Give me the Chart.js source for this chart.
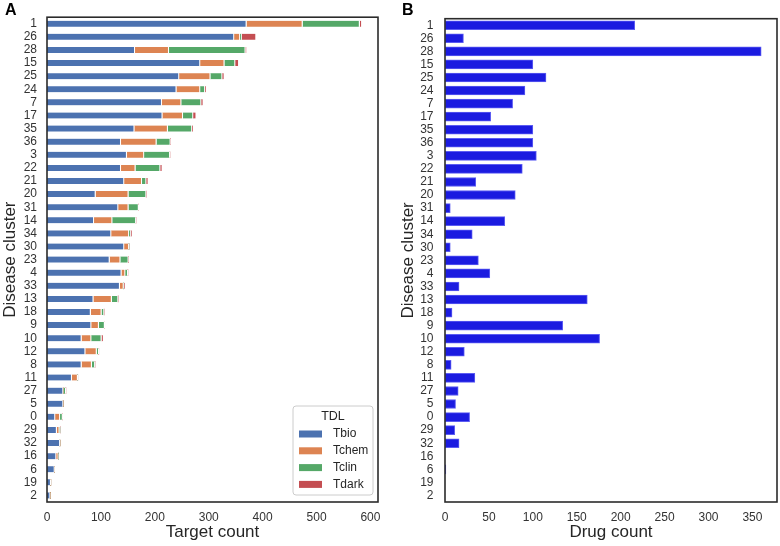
<!DOCTYPE html>
<html>
<head>
<meta charset="utf-8">
<script src="https://cdn.jsdelivr.net/npm/chart.js@4.4.1/dist/chart.umd.min.js"></script>
<style>
  html, body { margin: 0; padding: 0; background: #fff; }
  #wrap { position: relative; width: 780px; height: 546px; overflow: hidden; }
  .cv { position: absolute; top: 0; }
  .panel { position: absolute; font-family: "Liberation Sans", Arial, sans-serif; font-weight: bold; font-size: 16px; color: #000; line-height: 16px; }
</style>
</head>
<body>
<div id="wrap">
  <canvas id="cA" class="cv" width="390" height="546" style="left:0px"></canvas>
  <canvas id="cB" class="cv" width="390" height="546" style="left:390px"></canvas>
  <div class="panel" style="left:5px; top:2px;">A</div>
  <div class="panel" style="left:402px; top:2px;">B</div>
</div>
<script>
// ---- data ----
const categories = ['1','26','28','15','25','24','7','17','35','36','3','22','21','20','31','14','34','30','23','4','33','13','18','9','10','12','8','11','27','5','0','29','32','16','6','19','2'];
const tbio  = [370,347,163,284,245,240,213,214,162,137,148,137,143,90,132,87,119,143,116,138,135,86,81,82,64,71,64,46,30,30,15,18,24,17,14,7,6];
const tchem = [104,11,63,45,58,44,36,38,62,66,32,27,33,61,19,34,33,9,20,7,7,34,20,14,18,21,19,11,0,0,9,5,0,4,0,0,0];
const tclin = [106,3,142,20,22,9,37,19,45,26,48,46,8,33,19,44,3,0,15,5,0,12,5,11,19,4,6,0,5,0,5,2,0,0,0,0,0];
const tdark = [4,27,2,7,4,2,4,6,2,0,0,4,4,0,0,0,3,0,0,0,3,0,0,0,4,0,0,0,0,0,0,0,0,0,0,0,0];
const drugCount = [216,21,360,100,115,91,77,52,100,100,104,88,35,80,6,68,31,6,38,51,16,162,8,134,176,22,7,34,15,12,28,11,16,0,1,0,0];
const targetTicksMax = 614;
const drugTicksMax = 378;

const FONT = '"Liberation Sans", Arial, sans-serif';
const TICK_COLOR = '#333333';
const TITLE_COLOR = '#262626';

const framePlugin = {
  id: 'frame',
  afterDatasetsDraw(chart) {
    const a = chart.chartArea, ctx = chart.ctx;
    ctx.save();
    ctx.strokeStyle = '#2b2b2b';
    ctx.lineWidth = 1.6;
    ctx.strokeRect(a.left, a.top, a.right - a.left, a.bottom - a.top);
    ctx.restore();
  }
};

const boxLegendPlugin = {
  id: 'boxLegend',
  afterDraw(chart) {
    const a = chart.chartArea, ctx = chart.ctx;
    const w = 80, h = 89;
    const x0 = a.right - 5 - w, y0 = a.bottom - 7 - h;
    ctx.save();
    ctx.beginPath();
    if (ctx.roundRect) ctx.roundRect(x0, y0, w, h, 3); else ctx.rect(x0, y0, w, h);
    ctx.fillStyle = 'rgba(255,255,255,0.85)';
    ctx.fill();
    ctx.strokeStyle = '#cccccc';
    ctx.lineWidth = 1;
    ctx.stroke();
    ctx.fillStyle = TITLE_COLOR;
    ctx.font = '12.5px ' + FONT;
    ctx.textAlign = 'center';
    ctx.textBaseline = 'middle';
    ctx.fillText('TDL', x0 + w / 2, y0 + 11);
    ctx.font = '12px ' + FONT;
    ctx.textAlign = 'left';
    chart.data.datasets.forEach((ds, i) => {
      const yc = y0 + 28 + i * 16.8;
      ctx.fillStyle = ds.backgroundColor;
      ctx.fillRect(x0 + 6, yc - 3.5, 23, 7);
      ctx.fillStyle = TITLE_COLOR;
      ctx.fillText(ds.label, x0 + 40, yc);
    });
    ctx.restore();
  }
};

function xScale(max, title) {
  return {
    min: 0, max: max,
    grid: { display: false, drawTicks: false },
    border: { display: false },
    ticks: { stepSize: 50, includeBounds: false, color: TICK_COLOR, font: { family: FONT, size: 12 }, padding: 8, maxRotation: 0 },
    title: { display: true, text: title, color: TITLE_COLOR, font: { family: FONT, size: 17 }, padding: { top: 0, bottom: 3 } },
    afterFit(s) { s.height = 44; }
  };
}
function yScale(width, pad, titlePad) {
  return {
    grid: { display: false, drawTicks: false },
    border: { display: false },
    ticks: { autoSkip: false, color: TICK_COLOR, font: { family: FONT, size: 12 }, padding: pad },
    title: { display: true, text: 'Disease cluster', color: TITLE_COLOR, font: { family: FONT, size: 17 }, padding: { top: titlePad, bottom: 0 } },
    afterFit(s) { s.width = width; }
  };
}

const segBorder = { top: 0, bottom: 0, left: 0, right: 1.2 };
const xA = xScale(targetTicksMax, 'Target count');
xA.ticks.stepSize = 100;
xA.stacked = true;
const yA = yScale(47, 10, 0);
yA.stacked = true;

new Chart(document.getElementById('cA'), {
  type: 'bar',
  data: {
    labels: categories,
    datasets: [
      { label: 'Tbio',  data: tbio,  backgroundColor: '#4C72B0' },
      { label: 'Tchem', data: tchem, backgroundColor: '#DD8452' },
      { label: 'Tclin', data: tclin, backgroundColor: '#55A868' },
      { label: 'Tdark', data: tdark, backgroundColor: '#C44E52' }
    ].map(d => Object.assign(d, { borderColor: '#ffffff', borderWidth: segBorder, borderSkipped: false, barThickness: 6 }))
  },
  options: {
    indexAxis: 'y',
    responsive: false,
    animation: false,
    devicePixelRatio: 1,
    layout: { padding: { top: 17, right: 12, left: 0, bottom: 0 } },
    plugins: { legend: { display: false }, tooltip: { enabled: false } },
    scales: { x: xA, y: yA }
  },
  plugins: [framePlugin, boxLegendPlugin]
});

new Chart(document.getElementById('cB'), {
  type: 'bar',
  data: {
    labels: categories,
    datasets: [
      { label: 'Drug count', data: drugCount, backgroundColor: '#1b1be0', borderColor: '#5c5cf2', borderWidth: 1, borderSkipped: false, barThickness: 9 }
    ]
  },
  options: {
    indexAxis: 'y',
    responsive: false,
    animation: false,
    devicePixelRatio: 1,
    layout: { padding: { top: 17, right: 3, left: 0, bottom: 0 } },
    plugins: { legend: { display: false }, tooltip: { enabled: false } },
    scales: { x: xScale(drugTicksMax, 'Drug count'), y: yScale(55, 11.5, 8) }
  },
  plugins: [framePlugin]
});
</script>
</body>
</html>
